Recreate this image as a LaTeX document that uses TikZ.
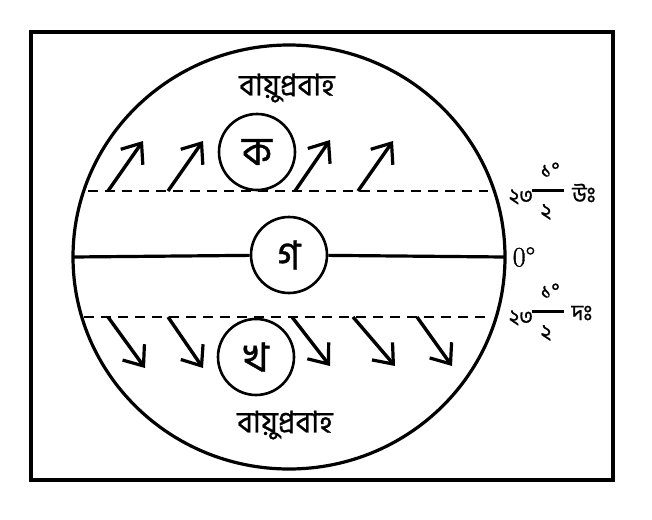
\documentclass[tikz,border=0pt]{standalone}
\usepackage{fontspec}
\newfontfamily\bn[Script=Bengali,FakeBold=0.8]{Hind Siliguri}
\newfontfamily\degf[FakeBold=1.2]{Latin Modern Roman}
\usetikzlibrary{arrows.meta}

\tikzset{
    globe/.style={line width=3.2pt},
    lat/.style={line width=2.6pt, dash pattern=on 10pt off 7pt},
    wind/.style={line width=3.4pt, -{Straight Barb[length=17pt,width=27pt,line width=3.2pt]}},
    zone/.style={circle, draw, line width=2.6pt, minimum size=76pt, inner sep=0pt, font=\bn\fontsize{40}{40}\selectfont},
    lbl/.style={inner sep=0pt, font=\bn\fontsize{30}{30}\selectfont}
}

\begin{document}
\begin{tikzpicture}[x=1pt,y=-1pt]
            \useasboundingbox (0,0) rectangle (652,519);
            \coordinate (O) at (289,257);
            \draw [globe] (31,32) rectangle (613,480);
            \draw [globe] (O) ellipse [x radius=216, y radius=212];
            % zones
            \node [zone] (ka) at (257,152) {ক};
            \node [zone] (ga) at (289,255) {গ};
            \node [zone] (kha) at (256,357) {খ};
            % equator and tropics
            \coordinate (EW) at (73,257);
            \coordinate (EE) at (505,257);
            \draw [globe] (EW) -- (ga) -- (EE);
            \coordinate (NW) at (88,191);
            \coordinate (NE) at (488,191);
            \coordinate (SW) at (84,317);
            \coordinate (SE) at (492,317);
            \draw [lat] (NW) -- (NE);
            \draw [lat] (SW) -- (SE);
            % winds
            \node [lbl] (windN) at (287,88) {বায়ুপ্রবাহ};
            \node [lbl] (windS) at (285,425) {বায়ুপ্রবাহ};
            \draw [wind] (108,191) -- (143,141);
            \draw [wind] (168,191) -- (203,141);
            \draw [wind] (295,191) -- (330,140);
            \draw [wind] (358,191) -- (393,141);
            \draw [wind] (108,317) -- (145,368);
            \draw [wind] (168,317) -- (203,368);
            \draw [wind] (292,317) -- (330,366);
            \draw [wind] (353,317) -- (395,366);
            \draw [wind] (417,317) -- (452,366);
            % latitudes
            \node [inner sep=0pt, font=\degf\fontsize{28}{28}\selectfont] (zero) at (524,257) {0°};
            \node [lbl, font=\bn\fontsize{21}{21}\selectfont] (n23) at (521,197) {২৩};
            \coordinate (nbarL) at (532,190);
            \coordinate (nbarR) at (564,190);
            \draw [line width=3pt] (nbarL) -- (nbarR);
            \node [lbl, font=\bn\fontsize{22}{22}\selectfont] (nnum) at (550,170) {১°};
            \node [lbl, font=\bn\fontsize{22}{22}\selectfont] (nden) at (546,212) {২};
            \node [lbl, font=\bn\fontsize{22}{22}\selectfont] (nor) at (584,193) {উঃ};
            \node [lbl, font=\bn\fontsize{21}{21}\selectfont] (s23) at (521,318) {২৩};
            \coordinate (sbarL) at (532,311);
            \coordinate (sbarR) at (564,311);
            \draw [line width=3pt] (sbarL) -- (sbarR);
            \node [lbl, font=\bn\fontsize{22}{22}\selectfont] (snum) at (550,291) {১°};
            \node [lbl, font=\bn\fontsize{22}{22}\selectfont] (sden) at (546,333) {২};
            \node [lbl, font=\bn\fontsize{22}{22}\selectfont] (sou) at (582,313) {দঃ};
\end{tikzpicture}
\end{document}
